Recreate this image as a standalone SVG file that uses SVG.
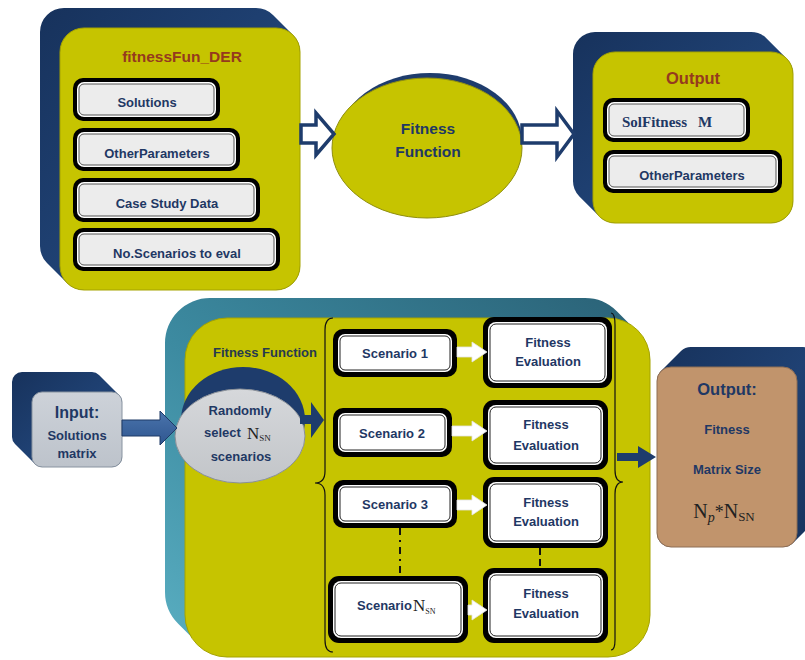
<svg xmlns="http://www.w3.org/2000/svg" width="805" height="660" viewBox="0 0 805 660">
<defs>
<linearGradient id="navy" x1="0" y1="0" x2="1" y2="1">
<stop offset="0" stop-color="#17325C"/><stop offset="0.5" stop-color="#1F4173"/><stop offset="1" stop-color="#17325C"/>
</linearGradient>
<linearGradient id="teal" x1="0" y1="1" x2="1" y2="0">
<stop offset="0" stop-color="#5AAFC2"/><stop offset="0.45" stop-color="#3C8AA0"/><stop offset="1" stop-color="#2A6176"/>
</linearGradient>
<linearGradient id="grayEl" x1="0" y1="0" x2="0" y2="1">
<stop offset="0" stop-color="#D6D8DB"/><stop offset="1" stop-color="#C2C5C9"/>
</linearGradient>
<linearGradient id="inBox" x1="0" y1="0" x2="0" y2="1">
<stop offset="0" stop-color="#CDD2D9"/><stop offset="1" stop-color="#BDC3CB"/>
</linearGradient>
<linearGradient id="blueArrow" x1="0" y1="0" x2="0" y2="1">
<stop offset="0" stop-color="#4A74AC"/><stop offset="1" stop-color="#2F5690"/>
</linearGradient>
</defs>
<style>
.yel{fill:#C6C400;stroke:#A5A300;stroke-width:1}
.back{fill:url(#navy)}
.bo{fill:#000}
.bw{fill:#fff}
.bi{fill:#fff;stroke:#222;stroke-width:1}
.bg{fill:#ECECEC;stroke:#555;stroke-width:1}
.t{font-family:"Liberation Sans",Arial,sans-serif;font-weight:bold;fill:#1F3864;text-anchor:middle;font-size:13px}
.h{font-size:16px}
.red{fill:#953A1E}
.s{font-family:"Liberation Serif","Times New Roman",serif}
.wa{fill:#fff;stroke:#E4E4E4;stroke-width:0.8}
.na{fill:#1E3C6C}
.hol{fill:#fff;stroke:#1E3C6C;stroke-width:3.5;stroke-linejoin:miter}
.br{fill:none;stroke:#111;stroke-width:1.2}
</style>

<g id="fitnessFun_DER">
<path class="back" d="M64,8 H256 A24,24 0 0 1 273,15 L293,35 A24,24 0 0 1 300,52 V266 A24,24 0 0 1 276,290 H84 A24,24 0 0 1 67,283 L47,263 A24,24 0 0 1 40,246 V32 A24,24 0 0 1 64,8 Z"/>
<rect class="yel" x="60" y="28" width="240" height="262" rx="24"/>
<text class="t red" x="182" y="62" style="font-size:15.5px">fitnessFun_DER</text>
<g id="solutions"><rect class="bo" x="73" y="78" width="147" height="43" rx="10"/><rect class="bw" x="77" y="82" width="139" height="35" rx="7"/><rect class="bg" x="79" y="84" width="135" height="31" rx="5"/><text class="t" x="147" y="106.5">Solutions</text></g>
<g id="otherParameters1"><rect class="bo" x="73" y="128" width="167" height="43" rx="10"/><rect class="bw" x="77" y="132" width="159" height="35" rx="7"/><rect class="bg" x="79" y="134" width="155" height="31" rx="5"/><text class="t" x="157" y="157.5">OtherParameters</text></g>
<g id="caseStudy"><rect class="bo" x="73" y="178" width="187" height="44" rx="10"/><rect class="bw" x="77" y="182" width="179" height="36" rx="7"/><rect class="bg" x="79" y="184" width="175" height="32" rx="5"/><text class="t" x="167" y="207.5">Case Study Data</text></g>
<g id="noScenarios"><rect class="bo" x="73" y="228" width="207" height="43" rx="10"/><rect class="bw" x="77" y="232" width="199" height="35" rx="7"/><rect class="bg" x="79" y="234" width="195" height="31" rx="5"/><text class="t" x="177" y="257.5">No.Scenarios to eval</text></g>
</g>

<g id="fitnessFunctionTop">
<ellipse cx="430" cy="141" rx="92" ry="68" fill="#1E3C6C"/>
<ellipse cx="427" cy="148" rx="95" ry="70" fill="#C6C400" stroke="#8F8E10" stroke-width="1"/>
<text class="t" x="428" y="134" style="font-size:15.5px">Fitness</text>
<text class="t" x="428" y="157" style="font-size:15.5px">Function</text>
</g>

<g id="outputTop">
<path class="back" d="M595,32 H751 A22,22 0 0 1 766.6,38.4 L786.6,58.4 A22,22 0 0 1 793,74 V201 A22,22 0 0 1 771,223 H615 A22,22 0 0 1 599.4,216.6 L579.4,196.6 A22,22 0 0 1 573,181 V54 A22,22 0 0 1 595,32 Z"/>
<rect class="yel" x="593" y="52" width="200" height="171" rx="22"/>
<text class="t red" x="693" y="84" style="font-size:16.5px">Output</text>
<g id="solFitness"><rect class="bo" x="603" y="98" width="147" height="44" rx="10"/><rect class="bw" x="607" y="102" width="139" height="36" rx="7"/><rect class="bg" x="609" y="104" width="135" height="32" rx="5"/><text class="t s" x="622" y="127" style="font-size:15px;text-anchor:start">SolFitness</text><text class="t s" x="698" y="127" style="font-size:15px;text-anchor:start">M</text></g>
<g id="otherParameters2"><rect class="bo" x="603" y="150" width="179" height="43" rx="10"/><rect class="bw" x="607" y="154" width="171" height="35" rx="7"/><rect class="bg" x="609" y="156" width="167" height="31" rx="5"/><text class="t" x="692" y="179.5">OtherParameters</text></g>
</g>

<g id="input">
<path class="back" d="M22,372 H92 A10,10 0 0 1 99,375 L119,395 A10,10 0 0 1 122,402 V457 A10,10 0 0 1 112,467 H42 A10,10 0 0 1 35,464 L15,444 A10,10 0 0 1 12,437 V382 A10,10 0 0 1 22,372 Z"/>
<rect x="32" y="392" width="90" height="75" rx="10" fill="url(#inBox)" stroke="#8893A0" stroke-width="1"/>
<text class="t h" x="77" y="418">Input:</text>
<text class="t" x="77" y="440">Solutions</text>
<text class="t" x="77" y="458">matrix</text>
</g>

<g id="fitnessFunctionBottom">
<path fill="url(#teal)" d="M210,298 H585 A45,45 0 0 1 616.8,311.2 L636.8,331.2 A45,45 0 0 1 650,363 V612 A45,45 0 0 1 605,657 H230 A45,45 0 0 1 198.2,643.8 L178.2,623.8 A45,45 0 0 1 165,592 V343 A45,45 0 0 1 210,298 Z"/>
<rect class="yel" x="185" y="318" width="465" height="339" rx="42"/>
<text class="t" x="265" y="357" style="fill:#263A50">Fitness Function</text>
</g>

<g id="randomSelect">
<ellipse cx="243" cy="420" rx="62" ry="53" fill="#1E3C6C"/>
<ellipse cx="240" cy="436" rx="65" ry="47" fill="url(#grayEl)" stroke="#8A9098" stroke-width="1"/>
<text class="t" x="240" y="415">Randomly</text>
<text class="t" x="204" y="437" style="text-anchor:start">select</text>
<text class="s" x="247" y="439" style="font-size:17px;fill:#222">N<tspan font-size="9" dy="2">SN</tspan></text>
<text class="t" x="241" y="461">scenarios</text>
</g>

<g id="scenario1"><rect class="bo" x="333" y="329" width="124" height="48" rx="10"/><rect class="bw" x="338" y="334" width="114" height="38" rx="7"/><rect class="bi" x="340" y="336" width="110" height="34" rx="5"/><text class="t" x="395" y="358">Scenario 1</text></g>
<g id="fitnessEval1"><rect class="bo" x="483" y="317" width="129" height="71" rx="11"/><rect class="bw" x="488" y="322" width="119" height="61" rx="8"/><rect class="bi" x="490" y="324" width="115" height="57" rx="6"/><text class="t" x="548" y="347">Fitness</text><text class="t" x="548" y="366">Evaluation</text></g>
<g id="scenario2"><rect class="bo" x="333" y="408" width="119" height="49" rx="10"/><rect class="bw" x="338" y="413" width="109" height="39" rx="7"/><rect class="bi" x="340" y="415" width="105" height="35" rx="5"/><text class="t" x="392" y="437.5">Scenario 2</text></g>
<g id="fitnessEval2"><rect class="bo" x="483" y="400" width="125" height="70" rx="11"/><rect class="bw" x="488" y="405" width="115" height="60" rx="8"/><rect class="bi" x="490" y="407" width="111" height="56" rx="6"/><text class="t" x="546" y="429">Fitness</text><text class="t" x="546" y="450">Evaluation</text></g>
<g id="scenario3"><rect class="bo" x="333" y="480" width="124" height="48" rx="10"/><rect class="bw" x="338" y="485" width="114" height="38" rx="7"/><rect class="bi" x="340" y="487" width="110" height="34" rx="5"/><text class="t" x="395" y="509">Scenario 3</text></g>
<g id="fitnessEval3"><rect class="bo" x="483" y="477" width="125" height="71" rx="11"/><rect class="bw" x="488" y="482" width="115" height="61" rx="8"/><rect class="bi" x="490" y="484" width="111" height="57" rx="6"/><text class="t" x="546" y="507">Fitness</text><text class="t" x="546" y="526">Evaluation</text></g>
<g id="scenarioN"><rect class="bo" x="328" y="576" width="140" height="67" rx="11"/><rect class="bw" x="333" y="581" width="130" height="57" rx="8"/><rect class="bi" x="335" y="583" width="126" height="53" rx="6"/><text class="t" x="357" y="610" style="text-anchor:start">Scenario</text><text class="s" x="413" y="611" style="font-size:17px;fill:#222">N<tspan font-size="8" dy="3">SN</tspan></text></g>
<g id="fitnessEval4"><rect class="bo" x="483" y="568" width="125" height="75" rx="11"/><rect class="bw" x="488" y="573" width="115" height="65" rx="8"/><rect class="bi" x="490" y="575" width="111" height="61" rx="6"/><text class="t" x="546" y="598">Fitness</text><text class="t" x="546" y="618">Evaluation</text></g>

<g id="outputBottom">
<path class="back" d="M661,371 L681,351 A14,14 0 0 1 691,347 H803 A14,14 0 0 1 817,361 V513 A14,14 0 0 1 813,523 L793,543 A14,14 0 0 1 783,547 H671 A14,14 0 0 1 657,533 V381 A14,14 0 0 1 661,371 Z"/>
<rect x="657" y="367" width="140" height="180" rx="14" fill="#C1946C" stroke="#8E6E55" stroke-width="1"/>
<text class="t" x="727" y="395" style="font-size:16.5px">Output:</text>
<text class="t" x="727" y="434">Fitness</text>
<text class="t" x="727" y="474">Matrix Size</text>
<text class="s" x="724" y="518" style="font-size:20px;fill:#222;text-anchor:middle">N<tspan font-size="14" font-style="italic" dy="4">p</tspan><tspan font-size="18" dy="-4">*</tspan>N<tspan font-size="13" dy="3">SN</tspan></text>
</g>

<g id="connectors">
<polygon class="hol" points="301,125 316,125 316,113 334,134 316,155 316,143 301,143"/>
<polygon class="hol" points="522,125 557,125 557,111 574,134 557,157 557,143 522,143"/>
<polygon points="122,420 160,420 160,411 177,428 160,445 160,436 122,436" fill="url(#blueArrow)" stroke="#1E3A66" stroke-width="1"/>
<polygon class="na" points="300,415 311,415 311,402 324,420 311,438 311,424 300,424"/>
<polygon class="na" points="617,453 638,453 638,446 656,457 638,468 638,461 617,461"/>
<polygon class="wa" points="457,347 472,347 472,342 487,352 472,362 472,357 457,357"/>
<polygon class="wa" points="452,426 472,426 472,421 487,431 472,441 472,436 452,436"/>
<polygon class="wa" points="457,500 472,500 472,495 487,505 472,515 472,510 457,510"/>
<polygon class="wa" points="468,605 472,605 472,600 487,610 472,620 472,615 468,615"/>
<path class="br" d="M333,318 Q325,318 325,330 V471 Q325,483 315,483 Q325,483 325,495 V640 Q325,652 333,652"/>
<path class="br" d="M611,313 Q615,313 615,325 V470 Q615,482 623,482 Q615,482 615,494 V640 Q615,650 611,650"/>
<line x1="400" y1="528" x2="400" y2="576" stroke="#111" stroke-width="2" stroke-dasharray="7 5 2 5"/>
<line x1="540" y1="548" x2="540" y2="568" stroke="#111" stroke-width="2" stroke-dasharray="7 4"/>
</g>
</svg>
